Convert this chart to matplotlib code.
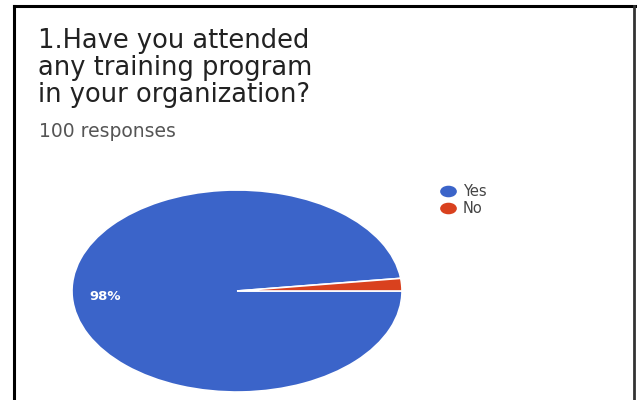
import matplotlib
matplotlib.use("Agg")
import matplotlib.pyplot as plt
from matplotlib.lines import Line2D
from matplotlib.path import Path
from matplotlib.transforms import Affine2D

# survey answers
title_lines = ["1.Have you attended", "any training program", "in your organization?"]
subtitle = "100 responses"
labels = ["Yes", "No"]
shares = [98, 2]
colors = ["#3B64C9", "#D9411E"]

fig = plt.figure(figsize=(6.37, 4.0), dpi=100)
fig.patch.set_facecolor("white")

# outer frame (open at the bottom)
frame_kw = dict(color="black", linewidth=2.2, transform=fig.transFigure)
fig.add_artist(Line2D([14 / 637, 14 / 637], [0, 1 - 6 / 400], **frame_kw))
fig.add_artist(Line2D([14 / 637, 635 / 637], [1 - 6 / 400, 1 - 6 / 400], **frame_kw))
fig.add_artist(Line2D([634 / 637, 634 / 637], [0, 1 - 6 / 400], color="#333333",
                      linewidth=2.0, transform=fig.transFigure))

# question title
baselines = [48, 75, 102]
for line, yb in zip(title_lines, baselines):
    fig.text(38 / 637, 1 - yb / 400, line, fontsize=18.5, color="#222222",
             ha="left", va="baseline", family="DejaVu Sans")
fig.text(39 / 637, 1 - 137 / 400, subtitle, fontsize=13.5, color="#555555",
         ha="left", va="baseline", family="DejaVu Sans")

# pie, squashed into an ellipse
ax = fig.add_axes([72 / 637, 8 / 400, 330 / 637, 202 / 400])
start = 360 * shares[1] / sum(shares)
wedges, texts, autotexts = ax.pie(
    shares, colors=colors, startangle=start, counterclock=True,
    autopct=lambda p: f"{p:.0f}%" if p > 5 else "", pctdistance=0.8,
    wedgeprops=dict(edgecolor="white", linewidth=1.2),
    textprops=dict(color="white", fontsize=9.5, fontweight="bold"))
ax.set_aspect("auto")
ax.set_xlim(-1.0, 1.0)
ax.set_ylim(-1.0, 1.0)
ax.axis("off")

# legend with oval markers
oval = Path.unit_circle().transformed(Affine2D().scale(1.5, 1.0))
handles = [Line2D([], [], linestyle="none", marker=oval, markersize=11,
                  markerfacecolor=c, markeredgecolor=c) for c in colors]
fig.legend(handles, labels, loc="upper left",
           bbox_to_anchor=(432 / 637, 1 - 177 / 400), frameon=False,
           fontsize=10.5, labelcolor="#444444", handletextpad=0.4,
           labelspacing=0.12, handlelength=1.2, borderpad=0)

fig.savefig("out.png", dpi=100, facecolor="white")
